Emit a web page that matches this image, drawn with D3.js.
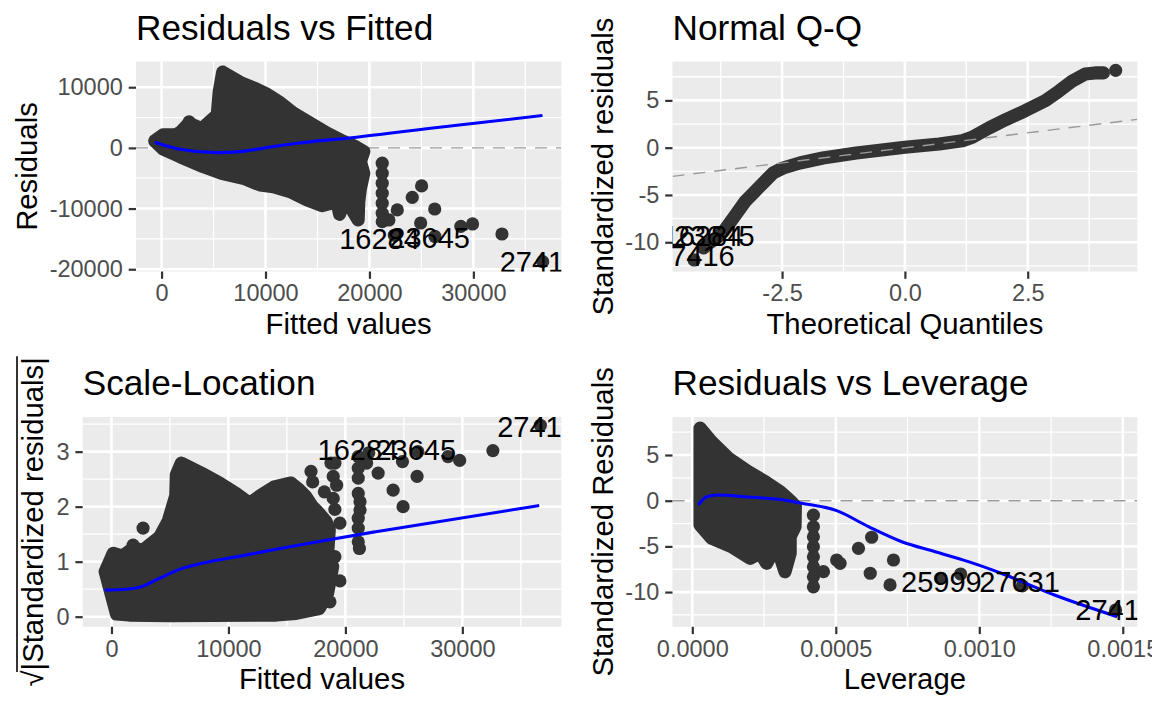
<!DOCTYPE html>
<html>
<head>
<meta charset="utf-8">
<script src="https://cdn.jsdelivr.net/npm/d3@7"></script>
<style>
  body { margin: 0; background: #ffffff; }
  text { font-family: "Liberation Sans", Arial, Helvetica, sans-serif; }
</style>
</head>
<body>
<div id="chart"></div>
<script>
// ---- Residuals vs Fitted ----
// outline of the dense cloud (point centres on its edge)
var rvfCloud = [
  [-656, 1155], [145, 2145], [1590, 2145], [2650, 4080], [3850, 3135], [4650, 4340],
  [5360, 5445], [5550, 9290], [5880, 12490], [7710, 10675], [8900, 9850], [9960, 9025],
  [11250, 7640], [12690, 5725], [14300, 4075], [15920, 2425], [17520, 1040], [18650, 215],
  [19450, -610], [19130, -2260], [19450, -4175], [19130, -6650], [18970, -8860], [18910, -11880],
  [18330, -10230], [18330, -7210], [17850, -6650], [17130, -10940], [16880, -8860], [15430, -9520],
  [13990, -8580], [12380, -7210], [10760, -6385], [9480, -6105], [7870, -5000], [5780, -4175],
  [4010, -3085], [1760, -1435], [145, -165]
];
var rvfPoints = [
  [21230, -2525], [21230, -4175], [21230, -5825], [21230, -7475], [21230, -9125], [21230, -10775],
  [21230, -12160], [21870, -11880], [22680, -10230], [24120, -8170], [25020, -6270], [26280, -10070],
  [24930, -12380], [28790, -12940], [29920, -12540], [32750, -14190], [36670, -18760],
  [22400, -14400], [26300, -14600], [2650, 4300], [1600, 2400]
];
var rvfSmooth = [
  [-656, 940], [1760, -215], [5300, -775], [7550, -610], [9800, -50], [13020, 775],
  [17850, 1600], [25890, 3250], [36650, 5330]
];
var rvfLabels = [
  { id: "16284", x: 20966, y: -14900 },
  { id: "23645", x: 25790, y: -14850 },
  { id: "2741", x: 35640, y: -18760 }
];
var rvfXTicks = [0, 10000, 20000, 30000];
var rvfYTicks = [-20000, -10000, 0, 10000];

// ---- Normal Q-Q ----
var qqCurve = [
  [-4.10, -10.6], [-4.03, -10.25], [-3.83, -9.55], [-3.69, -8.84], [-3.49, -7.43], [-3.25, -5.67],
  [-3.05, -4.61], [-2.85, -3.55], [-2.68, -2.67], [-2.48, -2.15], [-2.14, -1.62], [-1.67, -1.09],
  [-0.99, -0.56], [0, 0.04], [0.70, 0.39], [1.17, 0.74], [1.37, 1.10], [1.71, 2.08], [2.05, 2.96],
  [2.45, 3.91], [2.86, 4.97], [3.13, 5.96], [3.40, 7.02], [3.67, 7.79], [3.87, 7.90], [4.04, 7.90]
];
var qqPoints = [[4.29, 8.18], [-4.29, -11.87]];
var qqLine = { intercept: -0.02, slope: 0.637 };
var qqLabels = [
  { id: "16284", x: -4.11, y: -9.33 },
  { id: "23645", x: -3.88, y: -9.33 },
  { id: "7416", x: -4.12, y: -11.45 }
];
var qqXTicks = [-2.5, 0, 2.5];
var qqYTicks = [-10, -5, 0, 5];

// ---- Scale-Location ----
var slCloud = [
  [430, 0.05], [-540, 0.82], [145, 1.15], [940, 1.10], [1850, 1.24], [2700, 1.21], [4120, 1.45],
  [4840, 1.73], [5500, 2.20], [5545, 2.58], [5970, 2.79], [7680, 2.61], [9240, 2.43], [10660, 2.24],
  [11800, 2.06], [12800, 2.21], [13930, 2.36], [15350, 2.43], [15930, 2.33], [16630, 2.18],
  [17150, 2.01], [17660, 1.90], [18340, 1.73], [18620, 1.58], [18480, 1.15], [18910, 0.91],
  [18480, 0.43], [17770, 0.15], [15780, 0.06], [14075, 0.03], [5000, 0.02], [1500, 0.03]
];
var slPoints = [
  [21100, 2.91], [21100, 2.70], [21100, 2.52], [21100, 2.24], [21250, 2.09], [21250, 1.94],
  [21100, 1.79], [21100, 1.61], [21100, 1.36], [21200, 1.24], [21810, 2.79], [22800, 2.61],
  [24080, 2.30], [24880, 2.82], [24930, 2.00], [26130, 2.55], [28770, 2.91], [29770, 2.84],
  [32610, 3.02], [36670, 3.48], [19100, 2.79], [18960, 2.55], [19250, 2.39], [18960, 2.15],
  [19100, 1.95], [19530, 1.70], [19100, 1.09], [19530, 0.65], [18680, 0.27], [17060, 2.64],
  [17200, 2.45], [18770, 2.79], [18200, 2.27], [22000, 2.98], [26200, 3.00], [2700, 1.61],
  [1850, 1.30], [5000, 1.80]
];
var slSmooth = [
  [-570, 0.485], [1280, 0.50], [2560, 0.545], [4120, 0.70], [5825, 0.86], [8385, 1.00],
  [11230, 1.11], [14070, 1.225], [18340, 1.39], [22600, 1.545], [36570, 2.02]
];
var slLabels = [
  { id: "16284", x: 21070, y: 3.03 },
  { id: "23645", x: 26020, y: 3.03 },
  { id: "2741", x: 35740, y: 3.45 }
];
var slXTicks = [0, 10000, 20000, 30000];
var slYTicks = [0, 1, 2, 3];

// ---- Residuals vs Leverage ----
var rvlCloud = [
  [0.000027, 7.95], [0.000067, 6.46], [0.000126, 4.64], [0.000195, 3.17], [0.000254, 2.08],
  [0.000306, 0.98], [0.000341, 0.0], [0.000359, -0.58], [0.000358, -2.84], [0.000341, -3.94],
  [0.000341, -5.75], [0.000323, -7.77], [0.000293, -4.85], [0.000259, -6.85], [0.000237, -5.72],
  [0.000201, -6.30], [0.000137, -5.03], [0.000067, -4.11], [0.000027, -2.66]
];
var rvlPoints = [
  [0.000422, -1.57], [0.000422, -2.85], [0.000422, -3.95], [0.000422, -5.04], [0.000422, -6.14],
  [0.000422, -7.24], [0.000422, -8.33], [0.000422, -9.43], [0.000457, -7.77], [0.000503, -6.49],
  [0.000515, -6.85], [0.000579, -5.21], [0.000625, -4.00], [0.000620, -7.94], [0.000701, -6.49],
  [0.000689, -9.22], [0.000865, -8.49], [0.000935, -8.02], [0.00115, -9.33], [0.001475, -11.96]
];
var rvlSmooth = [
  [0.000021, -0.47], [0.000050, 0.44], [0.000085, 0.62], [0.000207, 0.37], [0.000300, 0.15],
  [0.000381, -0.28], [0.000503, -1.09], [0.000614, -2.84], [0.000730, -4.49], [0.000846, -5.58],
  [0.000962, -6.67], [0.001074, -7.91], [0.001262, -10.32], [0.001480, -12.69]
];
var rvlLabels = [
  { id: "25999", x: 0.000868, y: -8.86 },
  { id: "27631", x: 0.00114, y: -8.86 },
  { id: "2741", x: 0.001447, y: -11.96 }
];
var rvlXTicks = [0, 0.0005, 0.0010, 0.0015];
var rvlYTicks = [-10, -5, 0, 5];

// ---- look ----
var pointColour = "#333333";
var pointRadius = 6.6;
var tickFont = 23.5;
var titleFont = 35.2;
var axisTitleFont = 29.3;
var labelFont = 29;

var svg = d3.select("#chart")
    .append("svg")
    .attr("width", 1152)
    .attr("height", 711);

var defs = svg.append("defs");

// minor breaks halfway between the major ones, kept inside the domain
function minorBreaks(ticks, domain) {
    var step = ticks[1] - ticks[0];
    var out = [];
    for (var v = ticks[0] - step / 2; v <= domain[1]; v += step) {
        if (v >= domain[0]) out.push(v);
    }
    return out;
}

function drawPanel(cfg) {
    var x = d3.scaleLinear().domain(cfg.xDomain).range([cfg.left, cfg.right]);
    var y = d3.scaleLinear().domain(cfg.yDomain).range([cfg.bottom, cfg.top]);
    var w = cfg.right - cfg.left;
    var h = cfg.bottom - cfg.top;

    svg.append("rect")
        .attr("x", cfg.left).attr("y", cfg.top)
        .attr("width", w).attr("height", h)
        .attr("fill", "#EBEBEB");

    var grid = svg.append("g");
    minorBreaks(cfg.xTicks, cfg.xDomain).forEach(function(v) {
        grid.append("line").attr("x1", x(v)).attr("x2", x(v))
            .attr("y1", cfg.top).attr("y2", cfg.bottom)
            .attr("stroke", "#ffffff").attr("stroke-width", 1.3);
    });
    minorBreaks(cfg.yTicks, cfg.yDomain).forEach(function(v) {
        grid.append("line").attr("y1", y(v)).attr("y2", y(v))
            .attr("x1", cfg.left).attr("x2", cfg.right)
            .attr("stroke", "#ffffff").attr("stroke-width", 1.3);
    });
    cfg.xTicks.forEach(function(v) {
        grid.append("line").attr("x1", x(v)).attr("x2", x(v))
            .attr("y1", cfg.top).attr("y2", cfg.bottom)
            .attr("stroke", "#ffffff").attr("stroke-width", 2.6);
    });
    cfg.yTicks.forEach(function(v) {
        grid.append("line").attr("y1", y(v)).attr("y2", y(v))
            .attr("x1", cfg.left).attr("x2", cfg.right)
            .attr("stroke", "#ffffff").attr("stroke-width", 2.6);
    });

    // axes
    var xAxis = svg.append("g")
        .attr("transform", `translate(0, ${cfg.bottom})`)
        .call(d3.axisBottom(x).tickValues(cfg.xTicks).tickFormat(cfg.xFormat)
            .tickSize(7.3).tickPadding(5.9));
    var yAxis = svg.append("g")
        .attr("transform", `translate(${cfg.left}, 0)`)
        .call(d3.axisLeft(y).tickValues(cfg.yTicks).tickFormat(cfg.yFormat)
            .tickSize(7.3).tickPadding(5.9));
    [xAxis, yAxis].forEach(function(a) {
        a.select(".domain").remove();
        a.selectAll(".tick line").attr("stroke", "#333333").attr("stroke-width", 2.2);
        a.selectAll(".tick text")
            .attr("fill", "#4D4D4D")
            .style("font-size", tickFont + "px")
            .style("font-family", '"Liberation Sans", Arial, sans-serif');
    });

    // titles
    svg.append("text")
        .attr("x", cfg.left).attr("y", cfg.top - 22)
        .style("font-size", titleFont + "px")
        .attr("fill", "#000000")
        .text(cfg.title);

    svg.append("text")
        .attr("x", (cfg.left + cfg.right) / 2).attr("y", cfg.bottom + 62.5)
        .attr("text-anchor", "middle")
        .style("font-size", axisTitleFont + "px")
        .attr("fill", "#000000")
        .text(cfg.xLabel);

    if (cfg.yLabel) {
        svg.append("text")
            .attr("transform", `translate(${cfg.yLabelX}, ${(cfg.top + cfg.bottom) / 2}) rotate(-90)`)
            .attr("text-anchor", "middle")
            .style("font-size", axisTitleFont + "px")
            .attr("fill", "#000000")
            .text(cfg.yLabel);
    }

    // everything inside the panel is clipped to it
    defs.append("clipPath").attr("id", "clip-" + cfg.id)
        .append("rect")
        .attr("x", cfg.left).attr("y", cfg.top)
        .attr("width", w).attr("height", h);
    var plot = svg.append("g").attr("clip-path", `url(#clip-${cfg.id})`);

    return { plot: plot, x: x, y: y, cfg: cfg };
}

function drawCloud(p, hull) {
    p.plot.append("path")
        .datum(hull)
        .attr("d", d3.line().x(d => p.x(d[0])).y(d => p.y(d[1])).curve(d3.curveLinearClosed))
        .attr("fill", pointColour)
        .attr("stroke", pointColour)
        .attr("stroke-width", pointRadius * 2)
        .attr("stroke-linejoin", "round");
}

function drawPoints(p, pts) {
    p.plot.selectAll(null)
        .data(pts)
        .enter()
        .append("circle")
        .attr("cx", d => p.x(d[0]))
        .attr("cy", d => p.y(d[1]))
        .attr("r", pointRadius)
        .attr("fill", pointColour);
}

function drawSmooth(p, pts) {
    p.plot.append("path")
        .datum(pts)
        .attr("d", d3.line().x(d => p.x(d[0])).y(d => p.y(d[1])).curve(d3.curveMonotoneX))
        .attr("fill", "none")
        .attr("stroke", "#0000FF")
        .attr("stroke-width", 3.1);
}

function drawZeroLine(p, x1, y1, x2, y2) {
    p.plot.append("line")
        .attr("x1", p.x(x1)).attr("y1", p.y(y1))
        .attr("x2", p.x(x2)).attr("y2", p.y(y2))
        .attr("stroke", "#999999")
        .attr("stroke-width", 1.4)
        .attr("stroke-dasharray", "12,9");
}

function drawLabels(p, labels) {
    p.plot.selectAll(null)
        .data(labels)
        .enter()
        .append("text")
        .attr("x", d => p.x(d.x))
        .attr("y", d => p.y(d.y))
        .attr("dy", "0.36em")
        .attr("text-anchor", "middle")
        .style("font-size", labelFont + "px")
        .attr("fill", "#000000")
        .text(d => d.id);
}

var plain = d => String(d);

// Residuals vs Fitted
var p1 = drawPanel({
    id: "rvf", left: 136, right: 561.3, top: 61.5, bottom: 271.5,
    xDomain: [-2460, 38460], yDomain: [-20375, 14240],
    xTicks: rvfXTicks, yTicks: rvfYTicks, xFormat: plain, yFormat: plain,
    title: "Residuals vs Fitted", xLabel: "Fitted values", yLabel: "Residuals", yLabelX: 36.5
});
drawZeroLine(p1, p1.x.domain()[0], 0, p1.x.domain()[1], 0);
drawCloud(p1, rvfCloud);
drawPoints(p1, rvfPoints);
drawSmooth(p1, rvfSmooth);
drawLabels(p1, rvfLabels);

// Normal Q-Q
var p2 = drawPanel({
    id: "qq", left: 672.5, right: 1137.3, top: 61.5, bottom: 271.5,
    xDomain: [-4.73, 4.73], yDomain: [-13.09, 9.11],
    xTicks: qqXTicks, yTicks: qqYTicks, xFormat: d => d.toFixed(1), yFormat: plain,
    title: "Normal Q-Q", xLabel: "Theoretical Quantiles", yLabel: "Standardized residuals", yLabelX: 612.5
});
p2.plot.append("path")
    .datum(qqCurve)
    .attr("d", d3.line().x(d => p2.x(d[0])).y(d => p2.y(d[1])))
    .attr("fill", "none")
    .attr("stroke", pointColour)
    .attr("stroke-width", pointRadius * 2)
    .attr("stroke-linecap", "round")
    .attr("stroke-linejoin", "round");
drawPoints(p2, qqPoints);
var qd = p2.x.domain();
drawZeroLine(p2, qd[0], qqLine.intercept + qqLine.slope * qd[0],
    qd[1], qqLine.intercept + qqLine.slope * qd[1]);
drawLabels(p2, qqLabels);

// Scale-Location
var p3 = drawPanel({
    id: "sl", left: 82.7, right: 561.3, top: 417, bottom: 626.8,
    xDomain: [-2460, 38460], yDomain: [-0.184, 3.63],
    xTicks: slXTicks, yTicks: slYTicks, xFormat: plain, yFormat: plain,
    title: "Scale-Location", xLabel: "Fitted values", yLabel: null
});
drawCloud(p3, slCloud);
drawPoints(p3, slPoints);
drawSmooth(p3, slSmooth);
drawLabels(p3, slLabels);

// sqrt(|Standardized residuals|) axis title with a radical bar
var sq = svg.append("g")
    .attr("transform", `translate(43, ${(417 + 626.8) / 2}) rotate(-90)`);
var sqText = sq.append("text")
    .attr("text-anchor", "middle")
    .style("font-size", axisTitleFont + "px")
    .attr("fill", "#000000");
sqText.append("tspan").text("\u221A");
sqText.append("tspan").text("|Standardized residuals|");
var bb = sqText.node().getBBox();
var rootW = sqText.node().getSubStringLength(0, 1);
sq.append("line")
    .attr("x1", bb.x + rootW - 1.5).attr("x2", bb.x + bb.width + 1)
    .attr("y1", -26).attr("y2", -26)
    .attr("stroke", "#000000")
    .attr("stroke-width", 1.6);

// Residuals vs Leverage
var p4 = drawPanel({
    id: "rvl", left: 672.5, right: 1137.3, top: 417, bottom: 626.8,
    xDomain: [-0.000069, 0.0015506], yDomain: [-13.8, 9.16],
    xTicks: rvlXTicks, yTicks: rvlYTicks, xFormat: d => d.toFixed(4), yFormat: plain,
    title: "Residuals vs Leverage", xLabel: "Leverage", yLabel: "Standardized Residuals", yLabelX: 612.5
});
drawZeroLine(p4, p4.x.domain()[0], 0, p4.x.domain()[1], 0);
drawCloud(p4, rvlCloud);
drawPoints(p4, rvlPoints);
drawSmooth(p4, rvlSmooth);
drawLabels(p4, rvlLabels);
</script>
</body>
</html>
